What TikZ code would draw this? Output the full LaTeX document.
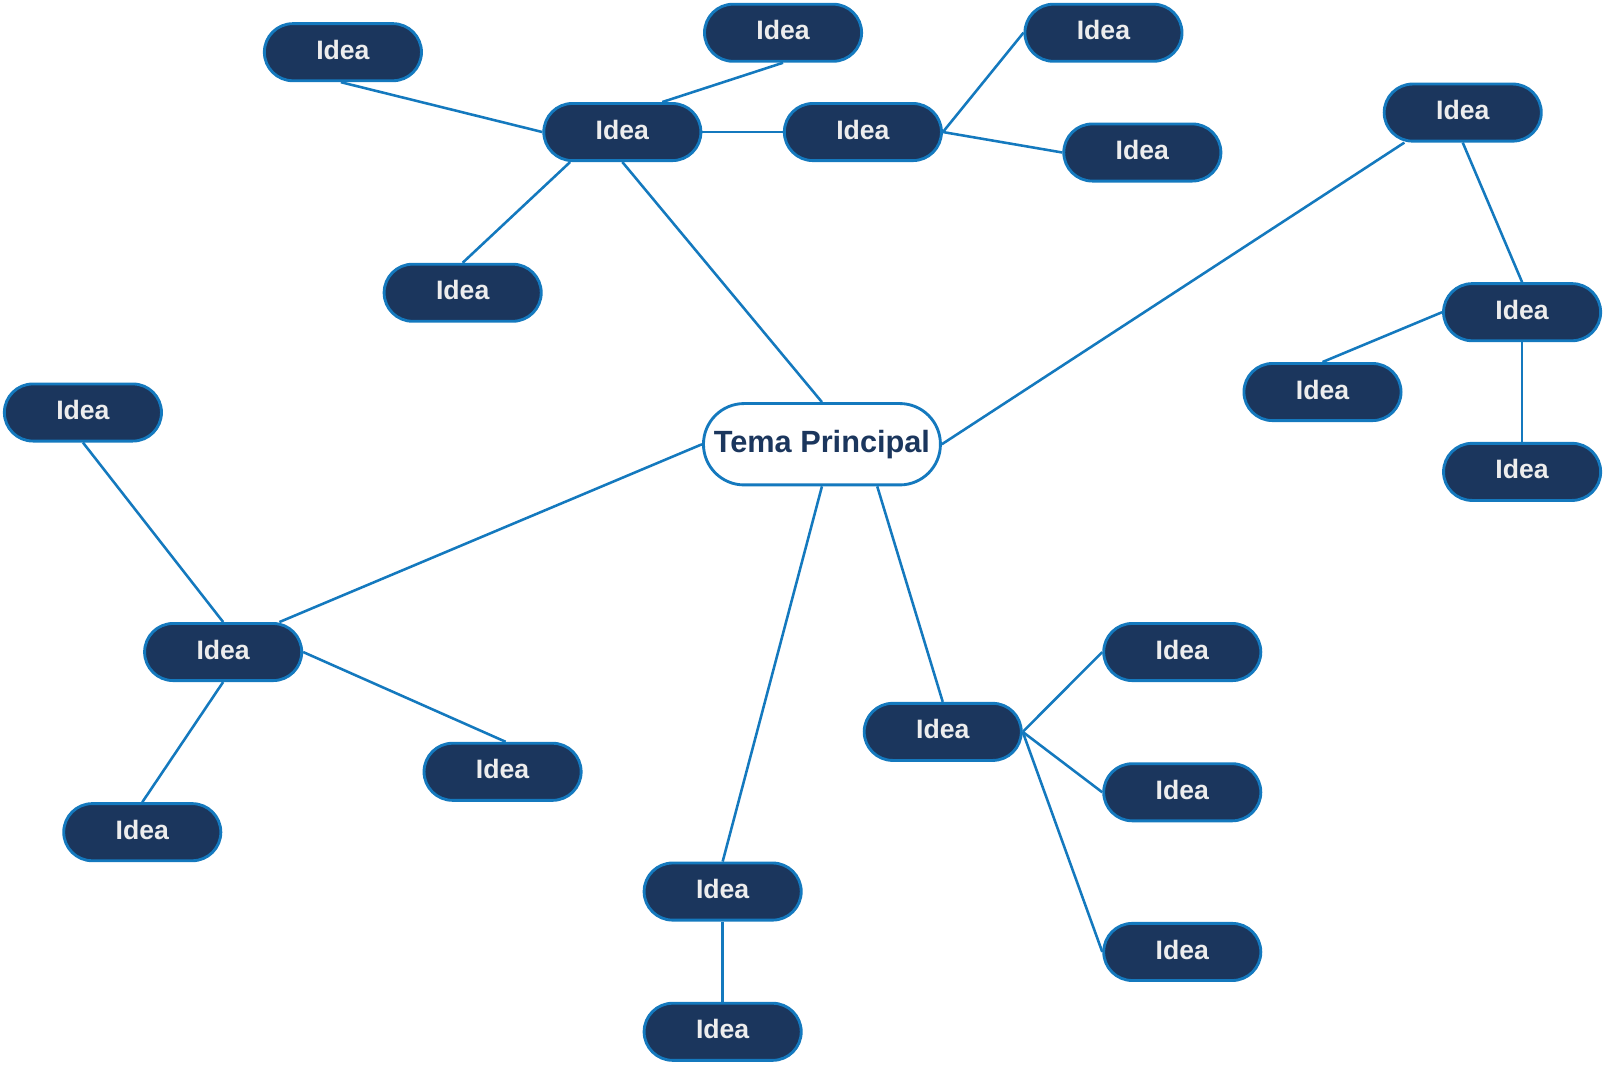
\documentclass[tikz,border=0pt]{standalone}
\usepackage{fontspec}
\setmainfont{Liberation Sans}
\usetikzlibrary{backgrounds}
\definecolor{navy}{HTML}{1B365D}
\definecolor{edgeblue}{HTML}{1479BE}
\definecolor{ideatext}{HTML}{EDEDED}
\begin{document}
\begin{tikzpicture}[x=1pt,y=-1pt,
  idea/.style={draw=edgeblue, line width=2.8pt, fill=navy, text=ideatext,
    rounded corners=27.9pt, minimum width=153.5pt, minimum height=55.8pt,
    inner sep=0pt, text depth=5pt, font=\fontsize{26}{30}\selectfont\bfseries},
  topic/.style={draw=edgeblue, line width=2.8pt, fill=white, text=navy,
    rounded corners=39.7pt, minimum width=231.5pt, minimum height=79.5pt,
    inner sep=0pt, font=\fontsize{30}{34}\selectfont\bfseries},
  link/.style={draw=edgeblue, line width=2.5pt}]
\useasboundingbox (0,0) rectangle (1568,1040);
% nodes
\node[topic] (tema) at (803,434) {Tema Principal};
\node[idea] (A) at (335,51)   {Idea};
\node[idea] (B) at (765,32)   {Idea};
\node[idea] (C) at (608,129)  {Idea};
\node[idea] (D) at (843,129)  {Idea};
\node[idea] (E) at (1078,32)  {Idea};
\node[idea] (F) at (1116,149) {Idea};
\node[idea] (G) at (452,286)  {Idea};
\node[idea] (H) at (1429,110) {Idea};
\node[idea] (I) at (1487,305) {Idea};
\node[idea] (J) at (1292,383) {Idea};
\node[idea] (K) at (1487,461) {Idea};
\node[idea] (L) at (81,403)   {Idea};
\node[idea] (M) at (218,637)  {Idea};
\node[idea] (N) at (491,754)  {Idea};
\node[idea] (O) at (139,813)  {Idea};
\node[idea] (P) at (921,715)  {Idea};
\node[idea] (Q) at (1155,637) {Idea};
\node[idea] (R) at (1155,774) {Idea};
\node[idea] (S) at (1155,930) {Idea};
\node[idea] (T) at (706,871)  {Idea};
\node[idea] (U) at (706,1008) {Idea};
% connectors
\begin{scope}[on background layer]
\draw[link] ([xshift=-2pt]A.south) -- (C.west);
\draw[link] (B.south) -- ([xshift=39pt]C.north);
\draw[link] (C.east) -- (D.west);
\draw[link] ([xshift=-51pt]C.south) -- (G.north);
\draw[link] (C.south) -- (tema.north);
\draw[link] (D.east) -- (E.west);
\draw[link] (D.east) -- (F.west);
\draw[link] (tema.east) -- ([xshift=-57pt]H.south);
\draw[link] (H.south) -- (I.north);
\draw[link] (I.west) -- (J.north);
\draw[link] (I.south) -- (K.north);
\draw[link] (tema.west) -- ([xshift=55pt]M.north);
\draw[link] (L.south) -- (M.north);
\draw[link] (M.east) -- ([xshift=3pt]N.north);
\draw[link] (M.south) -- (O.north);
\draw[link] (tema.south) -- (T.north);
\draw[link] ([xshift=54pt]tema.south) -- (P.north);
\draw[link] (P.east) -- (Q.west);
\draw[link] (P.east) -- (R.west);
\draw[link] (P.east) -- (S.west);
\draw[link] (T.south) -- (U.north);
\end{scope}
\end{tikzpicture}
\end{document}
